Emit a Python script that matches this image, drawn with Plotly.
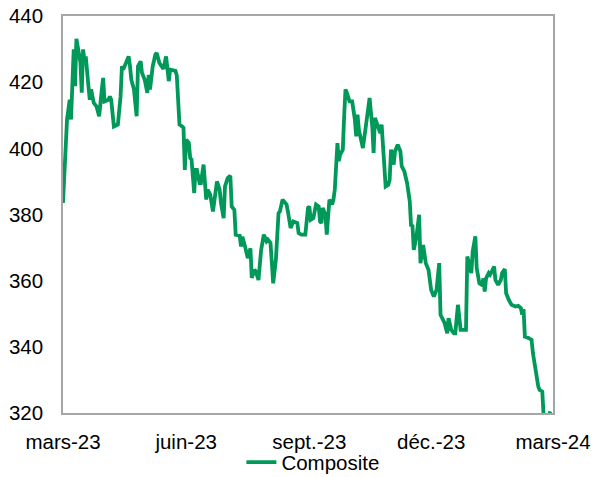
import pandas as pd
import plotly.graph_objects as go

start_date = "2023-03-01"
day_offsets = [
    0, 3, 5, 6, 8, 9, 10, 11, 13, 14, 15, 16, 17, 19, 20, 21, 23, 25, 27, 29,
    30, 31, 34, 35, 36, 38, 41, 43, 44, 45, 46, 48, 49, 50, 51, 53, 55, 56, 58, 59,
    61, 63, 64, 65, 67, 69, 70, 72, 74, 75, 77, 79, 80, 84, 85, 87, 89, 90, 91, 92,
    94, 95, 96, 98, 99, 100, 102, 103, 105, 107, 108, 110, 112, 113, 115, 117, 118, 120, 121, 123,
    125, 126, 128, 129, 132, 133, 134, 136, 138, 140, 141, 143, 144, 146, 148, 150, 152, 153, 155, 157,
    159, 161, 162, 164, 166, 167, 168, 170, 172, 175, 176, 178, 181, 183, 184, 185, 187, 189, 191, 192,
    193, 194, 196, 197, 199, 201, 202, 203, 205, 206, 207, 209, 210, 211, 212, 214, 216, 218, 219, 220,
    221, 224, 226, 228, 229, 231, 232, 233, 235, 237, 238, 239, 241, 243, 244, 245, 247, 248, 250, 252,
    253, 255, 257, 259, 260, 261, 262, 264, 266, 267, 269, 271, 273, 275, 277, 279, 281, 282, 283, 285,
    287, 288, 290, 292, 293, 295, 297, 299, 301, 302, 303, 305, 306, 308, 309, 311, 313, 314, 315, 316,
    318, 319, 321, 322, 323, 325, 327, 328, 330, 331, 333, 335, 338, 340, 342, 343, 344, 345, 348, 350,
    351, 353, 355, 356, 358, 359, 361, 362, 364,
]
composite = [
    383.5, 408.7, 414.7, 408.7, 429.9, 418.8, 433.1, 430.9, 426.0, 416.8, 429.9, 426.8, 427.8, 418.8, 414.7, 417.8, 413.7, 412.7, 409.7, 417.8,
    421.3, 414.2, 414.7, 415.7, 414.7, 406.6, 407.2, 415.7, 424.8, 423.8, 425.0, 426.8, 427.8, 425.0, 420.8, 417.8, 409.7, 424.8, 426.3, 422.8,
    420.8, 416.8, 422.2, 417.8, 424.8, 428.3, 428.8, 425.8, 424.8, 424.0, 427.8, 420.3, 423.8, 423.4, 422.0, 407.2, 406.6, 406.2, 393.5, 402.6,
    401.6, 397.1, 396.6, 386.5, 393.5, 393.5, 389.5, 389.5, 395.1, 384.5, 387.5, 386.0, 380.9, 383.5, 390.0, 387.5, 383.5, 378.9, 388.5, 391.0,
    391.7, 382.4, 381.4, 373.9, 373.6, 370.3, 373.3, 370.3, 366.8, 369.8, 360.8, 363.3, 362.8, 360.2, 369.3, 373.9, 371.9, 372.4, 371.4, 359.2,
    366.3, 380.4, 380.9, 384.5, 383.5, 383.0, 380.9, 375.9, 377.9, 377.4, 374.4, 373.9, 373.9, 382.0, 382.4, 378.4, 378.9, 383.0, 382.4, 377.9,
    377.4, 382.0, 379.9, 373.9, 384.5, 383.0, 384.5, 387.5, 401.6, 396.1, 398.1, 399.6, 409.7, 417.8, 416.8, 414.2, 414.2, 408.7, 403.6, 410.2,
    405.6, 400.1, 406.1, 411.2, 415.2, 406.6, 398.6, 409.2, 407.2, 404.6, 407.2, 400.6, 388.5, 389.0, 390.5, 399.6, 395.1, 399.1, 401.1, 399.1,
    394.6, 393.0, 389.5, 384.0, 376.4, 376.9, 369.3, 373.3, 379.9, 365.3, 370.8, 365.3, 363.3, 357.2, 355.2, 357.2, 365.3, 349.7, 348.7, 347.2,
    344.1, 348.7, 345.1, 344.1, 344.1, 352.7, 345.1, 345.1, 345.1, 367.3, 365.8, 362.3, 368.8, 373.4, 363.8, 359.2, 358.7, 360.7, 356.7, 360.7,
    362.3, 361.8, 363.3, 364.3, 360.2, 358.7, 360.2, 362.3, 363.5, 356.2, 354.2, 352.7, 352.2, 352.4, 351.7, 349.7, 351.4, 343.1, 342.6, 342.1,
    338.1, 332.0, 328.0, 327.0, 326.5, 319.0, 317.0, 318.0, 320.5,
]
tick_dates = ["2023-03-01", "2023-06-01", "2023-09-01", "2023-12-01", "2024-03-01"]
tick_labels = ["mars-23", "juin-23", "sept.-23", "déc.-23", "mars-24"]
y_ticks = [320, 340, 360, 380, 400, 420, 440]

dates = pd.Timestamp(start_date) + pd.to_timedelta(day_offsets, unit="D")

fig = go.Figure()
fig.add_trace(go.Scatter(
    x=dates, y=composite, mode="lines", name="Composite",
    line=dict(color="#00995A", width=3.8),
))

axis_color = "#A6A6A6"
font = dict(family="Liberation Sans, Arial, sans-serif", size=20.5, color="#000000")
fig.update_layout(
    width=593, height=477,
    margin=dict(l=63, r=40, t=16, b=64, autoexpand=False),
    paper_bgcolor="white", plot_bgcolor="white",
    font=font,
    showlegend=True,
    legend=dict(orientation="h", x=0.51, xanchor="center", y=-0.124, yanchor="middle",
                font=font, bgcolor="rgba(0,0,0,0)"),
    xaxis=dict(
        range=[tick_dates[0], tick_dates[-1]],
        tickvals=tick_dates, ticktext=tick_labels,
        showgrid=False, zeroline=False, automargin=False,
        showline=True, linecolor=axis_color, linewidth=1.5, mirror=True,
        ticks="", ticklabelstandoff=10,
    ),
    yaxis=dict(
        range=[320, 440], tickvals=y_ticks,
        showgrid=False, zeroline=False, automargin=False,
        showline=True, linecolor=axis_color, linewidth=1.5, mirror=True,
        ticks="", ticklabelstandoff=14,
    ),
)

fig.write_html("out.html")
